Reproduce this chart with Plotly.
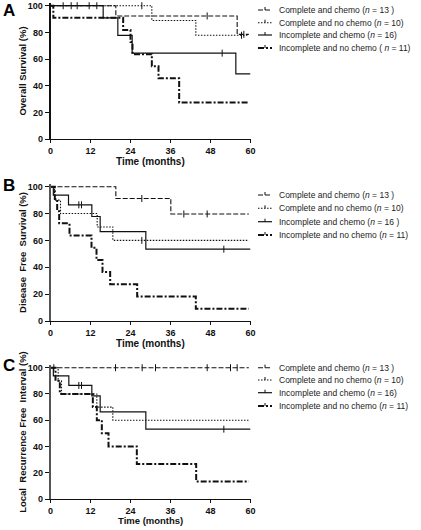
import plotly.graph_objects as go

W, H = 421, 530

# ---------------- data (months, % surviving) ----------------
panels = ["A", "B", "C"]
y_titles = ["Overall Survival (%)", "Disease  Free  Survival (%)",
            "Local  Recurrence Free  Interval (%)"]
group_names = ["Complete and chemo", "Complete and no chemo",
               "Incomplete and chemo", "Incomplete and no chemo"]
legend_labels = [
    ["Complete and chemo (<i>n</i> = 13 )", "Complete and no chemo (<i>n</i> = 10)",
     "Incomplete and chemo (<i>n</i> = 16)", "Incomplete and no chemo ( <i>n</i> = 11)"],
    ["Complete and chemo (<i>n</i> = 13 )", "Complete and no chemo (<i>n</i> = 10)",
     "Incomplete and chemo (<i>n</i> = 16 )", "Incomplete and no chemo (<i>n</i> = 11)"],
    ["Complete and chemo (<i>n</i> = 13 )", "Complete and no chemo (<i>n</i> = 10)",
     "Incomplete and chemo (<i>n</i> = 16)", "Incomplete and no chemo (<i>n</i> = 11)"],
]
x_ticks = [0, 12, 24, 36, 48, 60]
y_ticks = [0, 20, 40, 60, 80, 100]

# Panel A – overall survival
A_cc_t = [0, 19.6, 56.0, 59.5];            A_cc_s = [100, 92.3, 78.5, 78.5]
A_cn_t = [0, 30.4, 43.6, 59.5];            A_cn_s = [100, 88.9, 77.8, 77.8]
A_ic_t = [0, 15.8, 20.2, 24.5, 55.6, 60];  A_ic_s = [100, 90.9, 77.7, 64.4, 48.9, 48.9]
A_inc_t = [0, 0.85, 21.8, 24.0, 24.6, 30.4, 32.4, 38.6, 59.3]
A_inc_s = [100, 90.9, 81.8, 72.7, 63.6, 54.5, 45.5, 27.3, 27.3]
A_cc_cens_t = [47.0, 58.0];                A_cc_cens_s = [92.3, 78.5]
A_cn_cens_t = [27.4, 57.3];                A_cn_cens_s = [100, 77.8]
A_ic_cens_t = [3.8, 6.2, 8.0, 11.6, 13.9, 51.5]
A_ic_cens_s = [100, 100, 100, 100, 100, 64.4]
A_inc_cens_t = [];                         A_inc_cens_s = []

# Panel B – disease free survival
B_cc_t = [0, 19.6, 36.1, 59.5];            B_cc_s = [100, 91.2, 79.7, 79.7]
B_cn_t = [0, 1.2, 3.0, 14.0, 18.7, 59.5];  B_cn_s = [100, 90, 80, 70, 60, 60]
B_ic_t = [0, 0.85, 5.4, 12.4, 14.9, 28.6, 60]
B_ic_s = [100, 93.75, 86.5, 77.8, 66.5, 53.5, 53.5]
B_inc_t = [0, 1.3, 2.0, 2.6, 5.7, 12.3, 13.8, 15.6, 17.9, 26.0, 43.6, 59.5]
B_inc_s = [100, 90.9, 81.8, 72.7, 63.6, 54.5, 45.5, 36.4, 27.3, 18.2, 9.1, 9.1]
B_cc_cens_t = [27.4, 40.0, 47.0];          B_cc_cens_s = [91.2, 79.7, 79.7]
B_cn_cens_t = [27.4];                      B_cn_cens_s = [60]
B_ic_cens_t = [8.5, 9.3, 52.0];            B_ic_cens_s = [86.5, 86.5, 53.5]
B_inc_cens_t = [];                         B_inc_cens_s = []

# Panel C – local recurrence free interval
C_cc_t = [0, 59.5];                        C_cc_s = [100, 100]
C_cn_t = [0, 2.3, 3.3, 13.9, 18.7, 59.5];  C_cn_s = [100, 90, 80, 70, 60, 60]
C_ic_t = [0, 0.85, 5.5, 12.4, 14.9, 28.6, 60]
C_ic_s = [100, 93.75, 86.5, 78.5, 66.4, 53.2, 53.2]
C_inc_t = [0, 1.5, 2.8, 12.7, 13.9, 15.4, 17.4, 25.9, 43.7, 59.5]
C_inc_s = [100, 90, 80, 70, 60, 50, 40, 26.7, 13.3, 13.3]
C_cc_cens_t = [1.0, 19.5, 27.5, 31.5, 47.0, 54.0, 56.0]
C_cc_cens_s = [100, 100, 100, 100, 100, 100, 100]
C_cn_cens_t = [];                          C_cn_cens_s = []
C_ic_cens_t = [8.5, 9.3, 52.0];            C_ic_cens_s = [86.5, 86.5, 53.2]
C_inc_cens_t = [];                         C_inc_cens_s = []

curves = [
    [(A_cc_t, A_cc_s, A_cc_cens_t, A_cc_cens_s), (A_cn_t, A_cn_s, A_cn_cens_t, A_cn_cens_s),
     (A_ic_t, A_ic_s, A_ic_cens_t, A_ic_cens_s), (A_inc_t, A_inc_s, A_inc_cens_t, A_inc_cens_s)],
    [(B_cc_t, B_cc_s, B_cc_cens_t, B_cc_cens_s), (B_cn_t, B_cn_s, B_cn_cens_t, B_cn_cens_s),
     (B_ic_t, B_ic_s, B_ic_cens_t, B_ic_cens_s), (B_inc_t, B_inc_s, B_inc_cens_t, B_inc_cens_s)],
    [(C_cc_t, C_cc_s, C_cc_cens_t, C_cc_cens_s), (C_cn_t, C_cn_s, C_cn_cens_t, C_cn_cens_s),
     (C_ic_t, C_ic_s, C_ic_cens_t, C_ic_cens_s), (C_inc_t, C_inc_s, C_inc_cens_t, C_inc_cens_s)],
]

# ---------------- styles ----------------
INK = "#111111"
FONT = "Liberation Sans, Arial, sans-serif"
styles = [
    dict(dash="5px,2px", width=1.1),
    dict(dash="1.5px,1.5px", width=1.1),
    dict(dash="solid", width=1.2),
    dict(dash="6px,2px,2px,2px", width=2.0),
]

# pixel geometry: x-domain, and y positions of 0 and 100 per panel
x_left_px, x_right_px = 50.5, 250.5
y0_px = [139.0, 321.0, 499.0]
y100_px = [5.7, 186.7, 367.7]
YMAX = 102
legend_rows_px = [[10, 22.7, 35, 48], [195, 208.3, 221.7, 235], [367.7, 380, 392.7, 406]]
letter_px = [11, 186, 365]
xtitle_px = [162, 343, 520.5]
xtitle_size = [10, 10, 9.5]

fig = go.Figure()
layout = dict(
    width=W, height=H, margin=dict(l=0, r=0, t=0, b=0),
    paper_bgcolor="white", plot_bgcolor="white", showlegend=False,
    font=dict(family=FONT, color=INK),
)
shapes, annots = [], []

for p in range(3):
    xa = "xaxis" if p == 0 else f"xaxis{p+1}"
    ya = "yaxis" if p == 0 else f"yaxis{p+1}"
    xr = "x" if p == 0 else f"x{p+1}"
    yr = "y" if p == 0 else f"y{p+1}"
    ppu = (y0_px[p] - y100_px[p]) / 100.0
    top_px = y0_px[p] - ppu * YMAX
    layout[xa] = dict(
        domain=[x_left_px / W, x_right_px / W], range=[0, 60], anchor=yr,
        tickvals=x_ticks, ticks="outside", ticklen=3, tickwidth=1, tickcolor=INK,
        showline=True, linecolor=INK, linewidth=1.3, showgrid=False, zeroline=False,
        tickfont=dict(size=9, family=FONT, weight="bold", color=INK), automargin=False,
        ticklabelstandoff=0,
    )
    layout[ya] = dict(
        domain=[1 - y0_px[p] / H, 1 - top_px / H], range=[0, YMAX], anchor=xr,
        tickvals=y_ticks, ticks="outside", ticklen=4, tickwidth=1, tickcolor=INK,
        showline=True, linecolor="#555555" if p else INK, linewidth=1.6, showgrid=False,
        zeroline=False, tickfont=dict(size=9, family=FONT, weight="bold", color=INK),
        automargin=False,
        title=dict(text=y_titles[p], standoff=0,
                   font=dict(size=9.5, family=FONT, weight="bold", color=INK)),
    )
    # x axis title
    annots.append(dict(text="Time (months)", xref="paper", yref="paper",
                       x=(x_left_px + x_right_px) / 2 / W, y=1 - xtitle_px[p] / H,
                       xanchor="center", yanchor="middle", showarrow=False,
                       font=dict(size=xtitle_size[p], family=FONT, weight="bold", color=INK)))
    # panel letter
    annots.append(dict(text=panels[p], xref="paper", yref="paper",
                       x=1 / W, y=1 - letter_px[p] / H, xanchor="left", yanchor="middle",
                       showarrow=False,
                       font=dict(size=17, family="Liberation Sans, Arial", weight="bold", color="black")))

    for g in range(4):
        t, s, ct, cs = curves[p][g]
        st = styles[g]
        fig.add_trace(go.Scatter(
            x=t, y=s, mode="lines", line=dict(shape="hv", color=INK, width=st["width"], dash=st["dash"]),
            name=group_names[g], xaxis=xr, yaxis=yr, hoverinfo="skip"))
        if ct:
            fig.add_trace(go.Scatter(
                x=ct, y=cs, mode="markers", xaxis=xr, yaxis=yr, cliponaxis=False,
                marker=dict(symbol="line-ns", size=5, line=dict(width=1, color=INK)),
                name=group_names[g] + " censored", hoverinfo="skip"))

        # legend sample + text
        ry = legend_rows_px[p][g]
        shapes.append(dict(type="line", xref="paper", yref="paper",
                           x0=258 / W, x1=272 / W, y0=1 - ry / H, y1=1 - ry / H,
                           line=dict(color=INK, width=st["width"], dash=st["dash"])))
        shapes.append(dict(type="line", xref="paper", yref="paper",
                           x0=265 / W, x1=265 / W, y0=1 - ry / H, y1=1 - (ry - 3) / H,
                           line=dict(color=INK, width=1)))
        annots.append(dict(text=legend_labels[p][g], xref="paper", yref="paper",
                           x=277 / W, y=1 - ry / H, xanchor="left", yanchor="middle",
                           showarrow=False, font=dict(size=8.5, family=FONT, color="#222222")))

layout["shapes"] = shapes
layout["annotations"] = annots
fig.update_layout(**layout)
fig.write_html("out.html", config={"displayModeBar": False},
               post_script="document.body.style.margin='0';document.body.style.overflow='hidden';")
